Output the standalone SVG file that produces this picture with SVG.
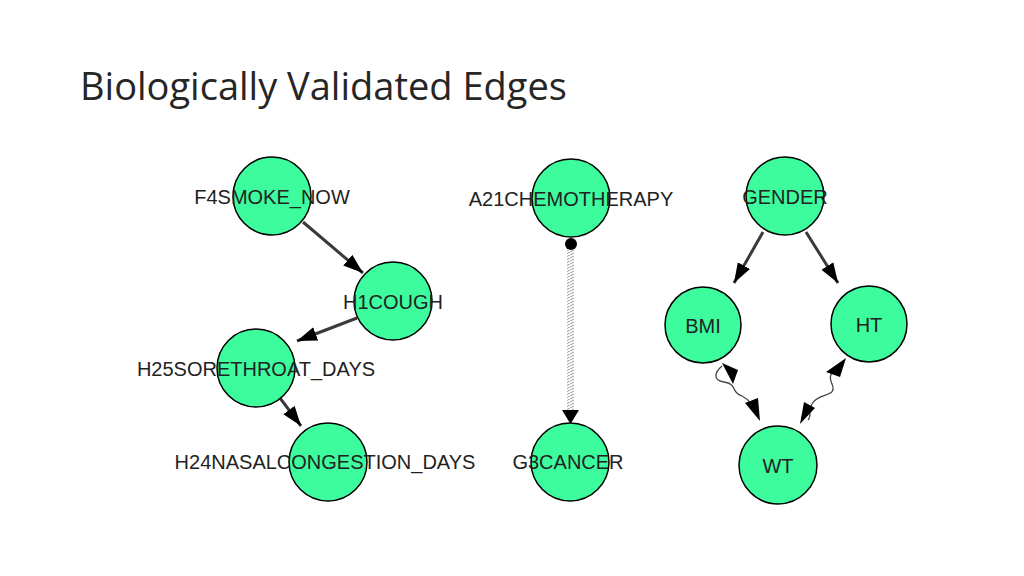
<svg xmlns="http://www.w3.org/2000/svg" width="1024" height="576" viewBox="0 0 1024 576">
<style>
.n{fill:#3cfc9e;stroke:#000;stroke-width:1.5}
.t{font-family:"Liberation Sans",Arial,sans-serif;font-size:20px;fill:#222;text-anchor:middle}
.e{stroke:#3a3a3a;stroke-width:3;fill:none}
.w{stroke:#444;stroke-width:1.3;fill:none}
</style>
<defs>
<marker id="a" viewBox="0 0 10 10" refX="9" refY="5" markerWidth="6" markerHeight="6" orient="auto" markerUnits="userSpaceOnUse" style="overflow:visible"><path d="M-12,-7 L4,5 L-12,17 Z" fill="#000" transform="translate(0,0)"/></marker>
<marker id="h" viewBox="0 0 20 20" refX="20" refY="10" markerWidth="20" markerHeight="20" orient="auto" markerUnits="userSpaceOnUse"><path d="M0,3 L20,10 L0,17 Z" fill="#000"/></marker>
<pattern id="z" width="6" height="3" patternUnits="userSpaceOnUse"><path d="M0,3 L6,0" stroke="#999" stroke-width="1"/></pattern>
</defs>
<rect width="1024" height="576" fill="#fff"/>
<text x="80" y="100" style="font-family:'Open Sans','Liberation Sans',sans-serif;font-size:38px;fill:#262626">Biologically Validated Edges</text>
<g id="connectors">
<line class="e" x1="303" y1="222" x2="363" y2="273" marker-end="url(#h)"/>
<line class="e" x1="357" y1="318" x2="297" y2="341" marker-end="url(#h)"/>
<line class="e" x1="280" y1="398" x2="301" y2="426" marker-end="url(#h)"/>
<line class="e" x1="763" y1="232" x2="734" y2="283" marker-end="url(#h)"/>
<line class="e" x1="806" y1="232" x2="838" y2="283" marker-end="url(#h)"/>
<circle cx="571" cy="244" r="6" fill="#000"/>
<rect x="567" y="250" width="7" height="162" fill="url(#z)"/>
<path d="M562,410 L579,410 L570.5,424 Z" fill="#000"/>
<path class="w" d="M722,366 C715,372 712,380 724,382 C738,384 730,392 742,396 C750,400 752,405 755,414"/>
<path d="M722,363 L733,384 L738,370 Z" fill="#000"/>
<path d="M745,403 L760,421 L758,398 Z" fill="#000"/>
<path class="w" d="M843,362 C838,372 826,370 832,384 C838,398 818,392 812,404 C808,410 812,416 808,420"/>
<path d="M846,358 L826,372 L840,377 Z" fill="#000"/>
<path d="M804,402 L800,424 L815,408 Z" fill="#000"/>
</g>
<g id="F4SMOKE_NOW"><circle class="n" cx="272" cy="196" r="39"/><text class="t" x="272" y="204">F4SMOKE_NOW</text></g>
<g id="H1COUGH"><circle class="n" cx="393" cy="301" r="39"/><text class="t" x="393" y="309">H1COUGH</text></g>
<g id="H25SORETHROAT_DAYS"><circle class="n" cx="256" cy="368" r="39"/><text class="t" x="256" y="376">H25SORETHROAT_DAYS</text></g>
<g id="H24NASALCONGESTION_DAYS"><circle class="n" cx="328" cy="462" r="39"/><text class="t" x="325" y="469">H24NASALCONGESTION_DAYS</text></g>
<g id="A21CHEMOTHERAPY"><circle class="n" cx="571" cy="198" r="39"/><text class="t" x="571" y="206">A21CHEMOTHERAPY</text></g>
<g id="G3CANCER"><circle class="n" cx="570" cy="462" r="39"/><text class="t" x="568" y="469">G3CANCER</text></g>
<g id="GENDER"><circle class="n" cx="785" cy="196" r="39"/><text class="t" x="785" y="204">GENDER</text></g>
<g id="BMI"><circle class="n" cx="703" cy="325" r="38"/><text class="t" x="703" y="333">BMI</text></g>
<g id="HT"><circle class="n" cx="869" cy="324" r="38"/><text class="t" x="869" y="332">HT</text></g>
<g id="WT"><circle class="n" cx="778" cy="465" r="39"/><text class="t" x="778" y="473">WT</text></g>
</svg>
